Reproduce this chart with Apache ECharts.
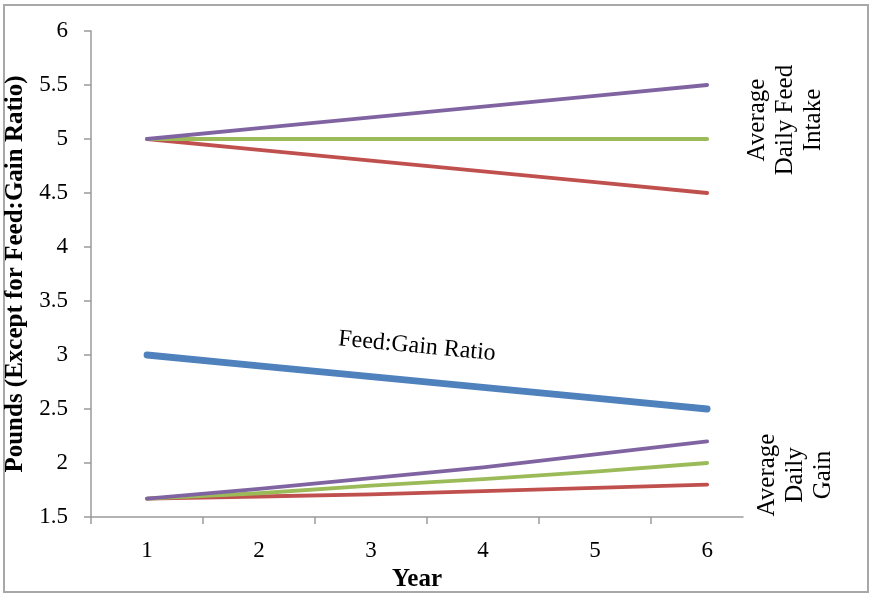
<!DOCTYPE html>
<html>
<head>
<meta charset="utf-8">
<script src="https://cdn.jsdelivr.net/npm/echarts@6/dist/echarts.min.js"></script>
<style>html,body{margin:0;padding:0;background:#fff;}#c{width:875px;height:600px;}</style>
</head>
<body>
<div id="c"></div>
<script>
var years = [1, 2, 3, 4, 5, 6];
var yTicks = [1.5, 2, 2.5, 3, 3.5, 4, 4.5, 5, 5.5, 6];
var adfiHigh = [5.0, 5.1, 5.2, 5.3, 5.4, 5.5];
var adfiFlat = [5.0, 5.0, 5.0, 5.0, 5.0, 5.0];
var adfiLow = [5.0, 4.9, 4.8, 4.7, 4.6, 4.5];
var feedGain = [3.0, 2.9, 2.8, 2.7, 2.6, 2.5];
var adgHigh = [1.67, 1.76, 1.86, 1.96, 2.08, 2.2];
var adgMid = [1.67, 1.72, 1.79, 1.85, 1.92, 2.0];
var adgLow = [1.67, 1.69, 1.71, 1.74, 1.77, 1.8];
var tickPositions = [0.5, 1.5, 2.5, 3.5, 4.5, 5.5];

function pairs(vals) { return years.map(function (y, i) { return [y, vals[i]]; }); }

var PURPLE = '#8064A2', GREEN = '#9BBB59', RED = '#C0504D', BLUE = '#4F81BD';
function line(name, vals, color, w) {
  return { name: name, type: 'line', data: pairs(vals), symbol: 'none', silent: true,
    lineStyle: { color: color, width: w, cap: 'round', join: 'round' }, z: 3 };
}

var labelStyle = { fontFamily: 'Liberation Serif', fontSize: 23, color: '#000' };
var nameStyle = { fontFamily: 'Liberation Serif', fontWeight: 'bold', fontSize: 25, color: '#000' };

var chart = echarts.init(document.getElementById('c'));
var option = {
  animation: false,
  grid: { left: 91, right: 132, top: 31, bottom: 83, containLabel: false, outerBoundsMode: 'none' },
  xAxis: {
    type: 'value', min: 0.5, max: 6.32,
    name: 'Year', nameLocation: 'middle', nameGap: 46,
    nameTextStyle: nameStyle,
    axisLine: { show: true, lineStyle: { color: '#9a9a9a', width: 1.5 } },
    axisTick: { show: true, length: 7, inside: false, customValues: tickPositions, lineStyle: { color: '#9a9a9a', width: 1.5 } },
    axisLabel: Object.assign({ customValues: years, margin: 22 }, labelStyle),
    splitLine: { show: false }
  },
  yAxis: {
    type: 'value', min: yTicks[0], max: yTicks[yTicks.length - 1], interval: 0.5,
    name: 'Pounds (Except for Feed:Gain Ratio)', nameLocation: 'middle', nameGap: 54,
    nameTextStyle: nameStyle,
    axisLine: { show: true, lineStyle: { color: '#9a9a9a', width: 1.5 } },
    axisTick: { show: true, length: 7, inside: false, lineStyle: { color: '#9a9a9a', width: 1.5 } },
    axisLabel: Object.assign({ margin: 23 }, labelStyle),
    splitLine: { show: false }
  },
  series: [
    line('ADFI low', adfiLow, RED, 3.8),
    line('ADFI flat', adfiFlat, GREEN, 3.8),
    line('ADFI high', adfiHigh, PURPLE, 3.8),
    line('Feed:Gain Ratio', feedGain, BLUE, 6.8),
    line('ADG low', adgLow, RED, 3.8),
    line('ADG mid', adgMid, GREEN, 3.8),
    line('ADG high', adgHigh, PURPLE, 3.8)
  ]
};
chart.setOption(option);

var fg = chart.convertToPixel({ gridIndex: 0 }, [3.41, 3.08]);
chart.setOption({
  graphic: [
    { type: 'rect', shape: { x: 4, y: 5, width: 864, height: 587 }, style: { fill: 'none', stroke: '#a8a8a8', lineWidth: 2 }, z: 0 },
    { type: 'text', x: fg[0], y: fg[1], rotation: -0.094,
      style: { text: 'Feed:Gain Ratio', font: '24px "Liberation Serif"', fill: '#000', align: 'center', verticalAlign: 'middle' } },
    { type: 'text', x: 785, y: 120, rotation: Math.PI / 2,
      style: { text: 'Average\nDaily Feed\nIntake', font: '25px "Liberation Serif"', lineHeight: 28, fill: '#000', align: 'center', verticalAlign: 'middle' } },
    { type: 'text', x: 795, y: 475, rotation: Math.PI / 2,
      style: { text: 'Average\nDaily\nGain', font: '25px "Liberation Serif"', lineHeight: 28, fill: '#000', align: 'center', verticalAlign: 'middle' } }
  ]
});
</script>
</body>
</html>
